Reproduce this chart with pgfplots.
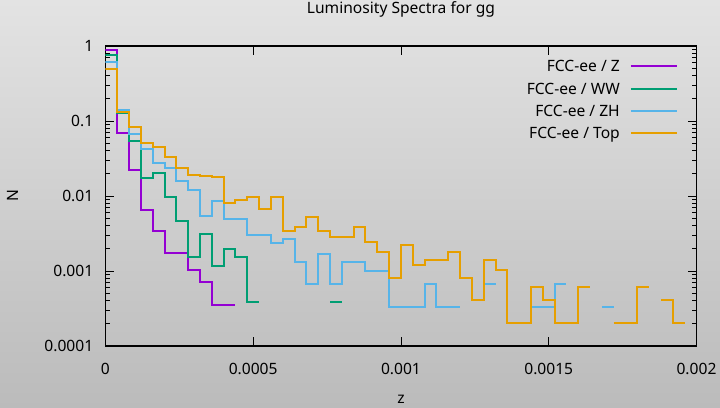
\documentclass[border=0pt]{standalone}
\usepackage{pgfplots}
\pgfplotsset{compat=1.18}
\usepackage{fontspec}
\setmainfont{Noto Sans}

\definecolor{bgtop}{RGB}{227,227,227}
\definecolor{bgbot}{RGB}{187,187,187}
\definecolor{cz}{RGB}{148,0,211}
\definecolor{cww}{RGB}{0,158,115}
\definecolor{czh}{RGB}{86,180,233}
\definecolor{ctop}{RGB}{230,159,0}

\begin{document}
\begin{tikzpicture}[font=\fontsize{15.6bp}{18bp}\selectfont]
\shade[top color=bgtop, bottom color=bgbot] (0,0) rectangle (720bp,408bp);
\useasboundingbox (0,0) rectangle (720bp,408bp);
\begin{axis}[
	at={(105.4bp,62bp)}, anchor=south west,
	scale only axis, width=591.1bp, height=300bp,
	xmin=0, xmax=0.002,
	ymode=log, ymin=1e-4, ymax=1,
	xtick={0,0.0005,0.001,0.0015,0.002},
	xticklabels={0,0.0005,0.001,0.0015,0.002},
	ytick={1e-4,1e-3,1e-2,1e-1,1},
	yticklabels={0.0001,0.001,0.01,0.1,1},
	scaled x ticks=false,
	tick align=inside,
	major tick length=9bp, minor tick length=4.5bp,
	tick style={black, line width=0.8bp},
	axis line style={black, line width=1.2bp},
	xticklabel style={anchor=base, inner sep=0pt, yshift=-28.3bp},
	yticklabel style={anchor=east, inner sep=0pt, xshift=-12bp},
	title={Luminosity Spectra for gg},
	title style={at={(axis description cs:0.5,1.09)}, anchor=base, inner sep=0pt},
	xlabel={z},
	xlabel style={at={(axis description cs:0.5,-0.19)}, anchor=base, inner sep=0pt},
	ylabel={N},
	ylabel style={at={(axis description cs:-0.1563,0.5)}, anchor=center, inner sep=0pt},
	unbounded coords=jump,
	every axis plot/.append style={const plot mark left, line width=2bp, no markers},
	legend style={draw=none, fill=none, at={(axis description cs:0.9687,0.9525)},
		anchor=north east, inner sep=0pt, row sep=10.8bp, column sep=10bp,
		nodes={inner sep=0pt, text height=11.5bp, text depth=0pt}},
	legend cell align=right,
	legend plot pos=right,
	legend image code/.code={\draw[#1, sharp plot] (0bp,0bp) -- (46bp,0bp);},
]
% FCC-ee / Z
\addplot[cz] table {
x y
0 0.885
0.00004 0.0685
0.00008 0.022
0.00012 0.0066
0.00016 0.00345
0.0002 0.00175
0.00024 0.00175
0.00028 0.00104
0.00032 0.000707
0.00036 0.000349
0.0004 0.000349
0.00044 0.000349
};
\addlegendentry{FCC-ee / Z}
% FCC-ee / WW
\addplot[cww] table {
x y
0 0.759
0.00004 0.126
0.00008 0.054
0.00012 0.0175
0.00016 0.0205
0.0002 0.0098
0.00024 0.00464
0.00028 0.00155
0.00032 0.00316
0.00036 0.00117
0.0004 0.00195
0.00044 0.00155
0.00048 0.00039
0.00052 0.00039
0.00056 nan
0.00076 0.00039
0.0008 0.00039
};
\addlegendentry{FCC-ee / WW}
% FCC-ee / ZH
\addplot[czh] table {
x y
0 0.618
0.00004 0.140
0.00008 0.0664
0.00012 0.0423
0.00016 0.0278
0.0002 0.0236
0.00024 0.0157
0.00028 0.012
0.00032 0.0054
0.00036 0.00867
0.0004 0.00499
0.00044 0.00499
0.00048 0.00302
0.00052 0.00302
0.00056 0.00234
0.0006 0.00267
0.00064 0.00133
0.00068 0.000671
0.00072 0.00169
0.00076 0.000671
0.0008 0.00133
0.00084 0.00133
0.00088 0.00101
0.00092 0.00101
0.00096 0.000335
0.001 0.000335
0.00104 0.000335
0.00108 0.000671
0.00112 0.000335
0.00116 0.000335
0.0012 0.000335
0.00122 nan
0.00128 0.000671
0.00132 0.000671
0.00134 nan
0.00144 0.000335
0.00148 0.000335
0.00152 0.000671
0.00156 0.000671
0.00158 nan
0.00168 0.000335
0.00172 0.000335
};
\addlegendentry{FCC-ee / ZH}
% FCC-ee / Top
\addplot[ctop] table {
x y
0 0.489
0.00004 0.13
0.00008 0.084
0.00012 0.0514
0.00016 0.0455
0.0002 0.0328
0.00024 0.0239
0.00028 0.0192
0.00032 0.0187
0.00036 0.0181
0.0004 0.00815
0.00044 0.00885
0.00048 0.0096
0.00052 0.00671
0.00056 0.0096
0.0006 0.00345
0.00064 0.00386
0.00068 0.00525
0.00072 0.00345
0.00076 0.00284
0.0008 0.00284
0.00084 0.00386
0.00088 0.00244
0.00092 0.00181
0.00096 0.000814
0.001 0.00222
0.00104 0.00121
0.00108 0.00142
0.00112 0.00142
0.00116 0.00181
0.0012 0.000814
0.00124 0.00041
0.00128 0.00142
0.00132 0.00102
0.00136 0.000205
0.0014 0.000205
0.00144 0.000612
0.00148 0.000407
0.00152 0.000205
0.00156 0.000205
0.0016 0.000612
0.00164 0.000612
0.00166 nan
0.00172 0.000205
0.00176 0.000205
0.0018 0.000612
0.00184 0.000612
0.00186 nan
0.00188 0.000407
0.00192 0.000205
0.00196 0.000205
};
\addlegendentry{FCC-ee / Top}
\end{axis}
\end{tikzpicture}
\end{document}
